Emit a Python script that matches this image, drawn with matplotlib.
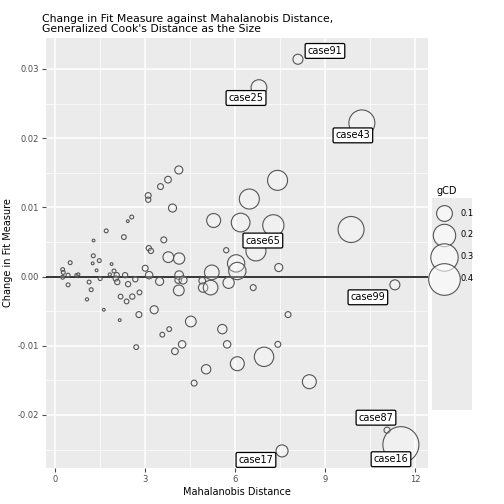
import matplotlib
matplotlib.use("Agg")
import matplotlib.pyplot as plt
import numpy as np
from matplotlib.ticker import MultipleLocator
from matplotlib.patches import Rectangle

mahal = [4.13,3.77,3.52,3.11,3.11,3.92,2.56,2.43,1.71,2.3,1.29,3.63,3.13,3.2,1.28,0.51,1.26,1.48,1.89,1.39,
         0.26,0.28,0.26,0.44,0.72,0.78,1.97,1.83,2.06,2.34,2.03,2.08,1.51,1.14,0.44,1.21,1.07,2.44,2.68,3.01,
         3.14,3.49,3.78,4.14,4.14,4.11,4.27,4.13,2.19,2.39,2.58,2.82,1.63,2.16,2.8,3.31,2.71,3.58,3.81,4.0,
         4.24,4.53,4.64,5.04,4.91,4.94,5.19,5.23,5.29,5.71,5.58,5.74,5.79,6.04,6.08,6.08,6.19,6.48,6.61,6.7,
         7.28,7.42,7.46,6.97,7.43,7.77,8.48,9.87,
         8.1,6.8,10.23,11.33,11.07,11.53,7.57]
change = [0.0154,0.0140,0.0130,0.0117,0.0111,0.0099,0.0086,0.0080,0.0066,0.0057,0.0052,0.0053,0.0041,0.0037,0.0030,0.0020,0.0019,0.0023,0.0018,0.0009,
          0.0010,0.0006,-0.0001,0.0002,0.0002,0.0003,0.0008,0.0003,0.0002,0.0002,-0.0003,-0.0008,-0.0003,-0.0008,-0.0012,-0.0019,-0.0033,-0.0011,-0.0004,0.0012,
          0.0002,-0.0007,0.0028,0.0026,0.0002,-0.0005,-0.0005,-0.0020,-0.0029,-0.0036,-0.0029,-0.0023,-0.0048,-0.0063,-0.0055,-0.0048,-0.0102,-0.0084,-0.0076,-0.0108,
          -0.0098,-0.0065,-0.0154,-0.0134,-0.0006,-0.0016,-0.0016,0.0006,0.0081,0.0038,-0.0076,-0.0098,-0.0009,0.0019,0.0008,-0.0126,0.0078,0.0112,-0.0016,0.0037,
          0.0074,0.0139,0.0013,-0.0116,-0.0098,-0.0055,-0.0152,0.0068,
          0.0314,0.0273,0.0222,-0.0012,-0.0222,-0.0243,-0.0252]
gcd = [0.026,0.018,0.014,0.014,0.011,0.026,0.006,0.003,0.006,0.009,0.003,0.014,0.011,0.011,0.006,0.006,0.003,0.006,0.003,0.003,
       0.006,0.006,0.006,0.006,0.004,0.004,0.006,0.004,0.011,0.011,0.011,0.011,0.006,0.006,0.006,0.006,0.004,0.011,0.011,0.014,
       0.022,0.026,0.046,0.051,0.030,0.018,0.026,0.046,0.009,0.009,0.011,0.009,0.003,0.003,0.014,0.026,0.009,0.009,0.009,0.018,
       0.022,0.046,0.014,0.035,0.018,0.035,0.086,0.086,0.078,0.011,0.035,0.022,0.051,0.12,0.12,0.078,0.14,0.16,0.014,0.16,
       0.18,0.16,0.026,0.15,0.014,0.014,0.078,0.27,
       0.04,0.10,0.27,0.04,0.015,0.52,0.058]
labels = ["case91","case25","case43","case99","case87","case16","case17","case65"]
label_x = [9.0,6.37,9.93,10.43,10.7,11.2,6.7,6.93]
label_y = [0.0326,0.0258,0.0204,-0.0030,-0.0204,-0.0264,-0.0265,0.0052]

def s_of(g):
    r_px = 25*np.sqrt(np.asarray(g))
    return (1.44*r_px)**2

fig = plt.figure(figsize=(5.04,5.04), dpi=100)
ax = fig.add_axes([0.091,0.071,0.758,0.854])
ax.set_facecolor("#EBEBEB")
ax.scatter(mahal, change, s=s_of(gcd), facecolor=(1,1,1,0.25), edgecolor="#555555", linewidth=0.8, zorder=3)
ax.axhline(0, color="black", lw=1.1, zorder=2)
ax.set_xlim(-0.3,12.43); ax.set_ylim(-0.0277,0.0345)
ax.xaxis.set_major_locator(MultipleLocator(3)); ax.xaxis.set_minor_locator(MultipleLocator(1.5))
ax.yaxis.set_minor_locator(MultipleLocator(0.005))
ax.set_yticks([-0.02,-0.01,0,0.01,0.02,0.03]); ax.set_yticklabels(["-0.02","-0.01","0.00","0.01","0.02","0.03"])
ax.grid(which="major", color="white", lw=1.1, zorder=0)
ax.grid(which="minor", color="white", lw=0.5, zorder=0)
ax.set_axisbelow(True)
for sp in ax.spines.values(): sp.set_visible(False)
ax.tick_params(which="both", length=3, labelsize=6, colors="#4D4D4D", pad=2)
ax.tick_params(which="minor", length=0)
ax.set_xlabel("Mahalanobis Distance", fontsize=7, labelpad=2)
ax.set_ylabel("Change in Fit Measure", fontsize=7, labelpad=3)
ax.set_title("Change in Fit Measure against Mahalanobis Distance,\nGeneralized Cook's Distance as the Size",
             fontsize=7.8, loc="left", x=-0.01, pad=4, linespacing=1.0)
for t,x,y in zip(labels,label_x,label_y):
    ax.text(x,y,t,fontsize=7,ha="center",va="center",zorder=5,
            bbox=dict(boxstyle="round,pad=0.25,rounding_size=0.15",fc="white",ec="black",lw=0.9))

fig.patches.append(Rectangle((432/504, 1-410/504), 40/504, 212/504, transform=fig.transFigure,
                             facecolor="#EBEBEB", edgecolor="none", zorder=0))
leg_vals = [0.1,0.2,0.3,0.4]
handles = [ax.scatter([],[],s=s_of(v),facecolor=(1,1,1,0.6),edgecolor="#555555",lw=0.8) for v in leg_vals]
leg = fig.legend(handles,[str(v) for v in leg_vals],title="gCD",loc="upper left",bbox_to_anchor=(0.852,0.645),
           frameon=False,fontsize=6,title_fontsize=7,labelspacing=1.55,handletextpad=0.9,borderpad=0.3)
leg._legend_box.align = "left"
fig.savefig("out.png", dpi=100)
